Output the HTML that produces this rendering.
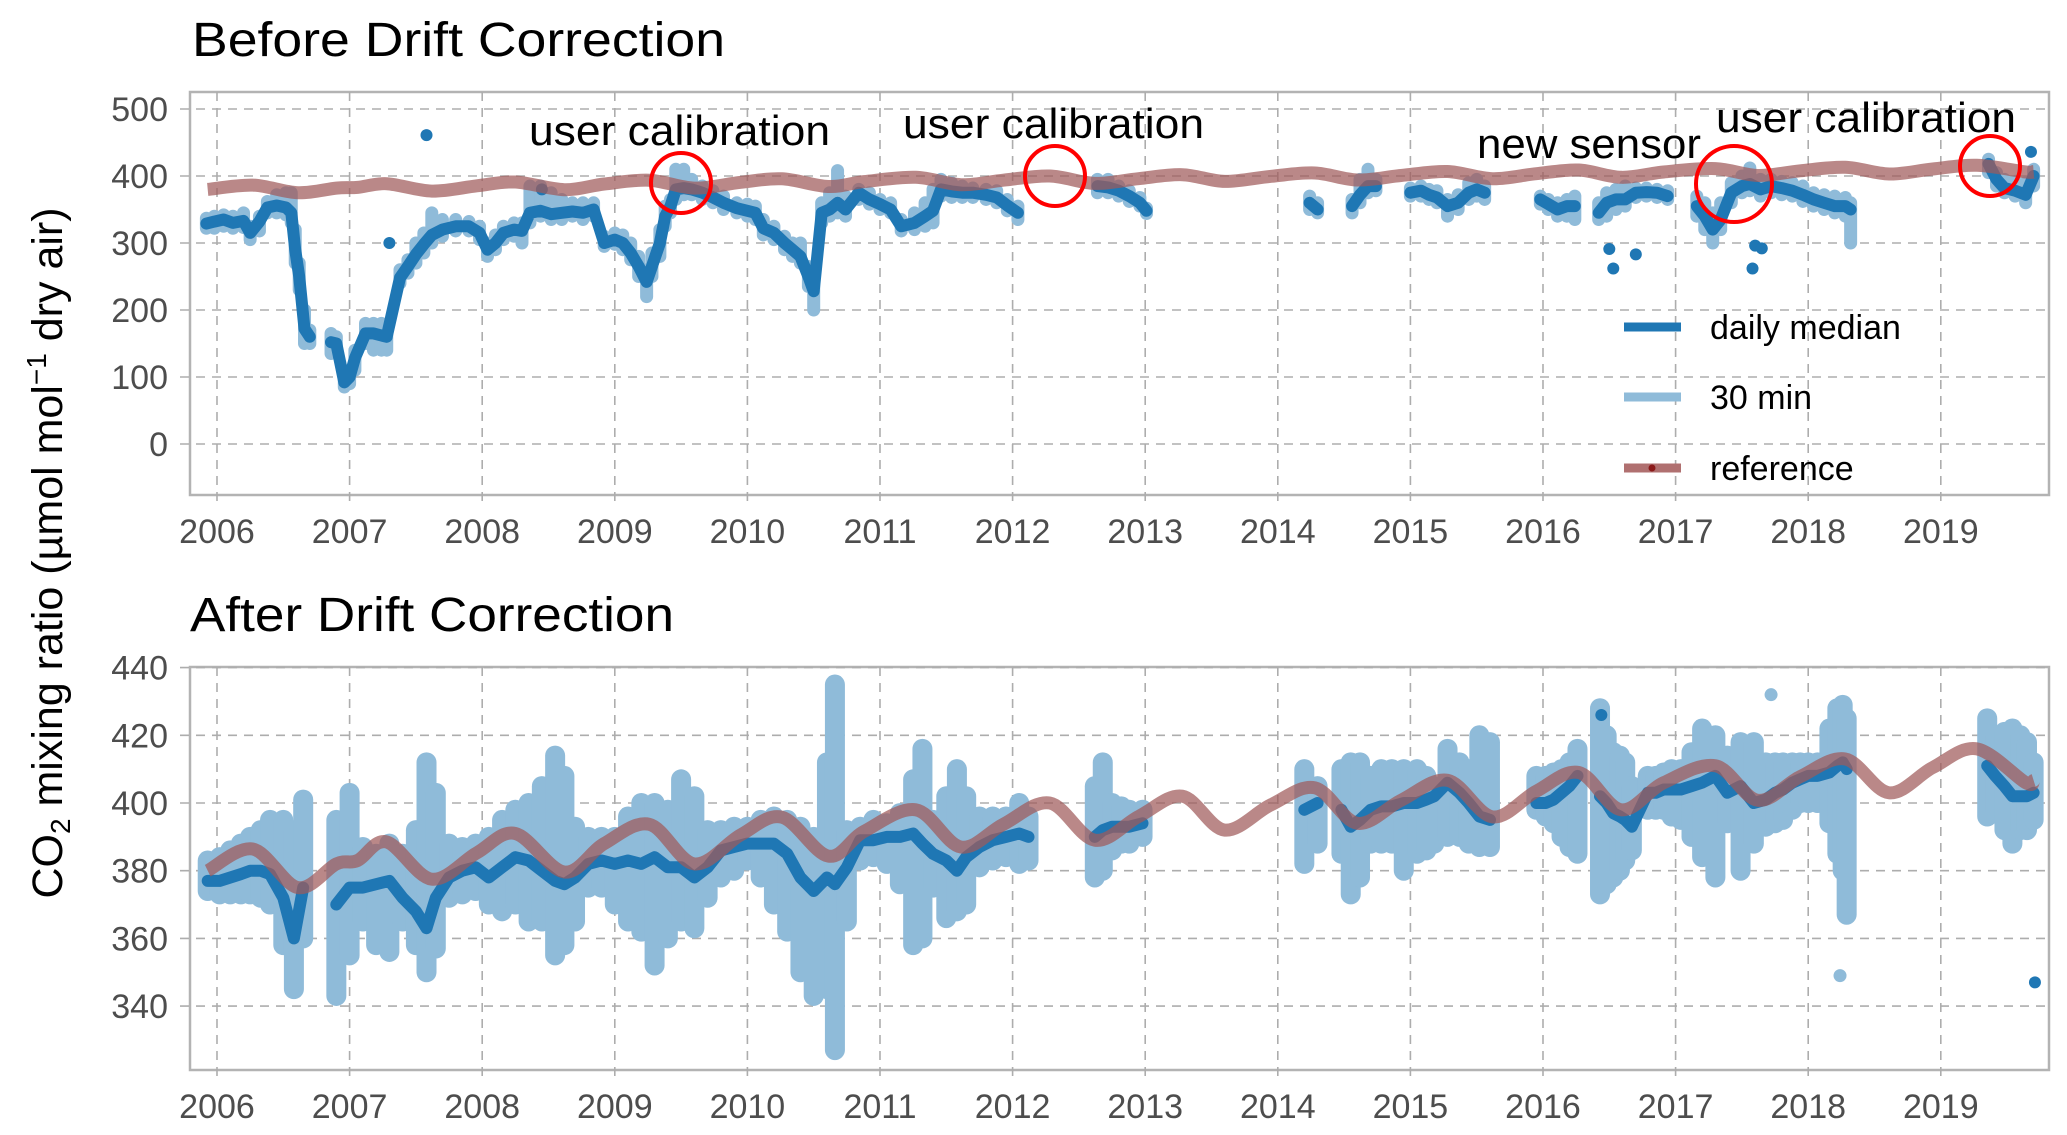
<!DOCTYPE html>
<html><head><meta charset="utf-8"><title>CO2 drift correction</title>
<style>
html,body{margin:0;padding:0;background:#fff;}
svg{display:block;font-family:"Liberation Sans",Arial,sans-serif;}
</style></head>
<body>
<svg id="chart" width="2067" height="1135" viewBox="0 0 2067 1135" xmlns="http://www.w3.org/2000/svg">
<rect x="0" y="0" width="2067" height="1135" fill="#fff"/>
<g id="top"></g>
<g id="bot"></g>
<text x="192" y="56" font-size="48" textLength="533" lengthAdjust="spacingAndGlyphs" fill="#000">Before Drift Correction</text>
<text x="190" y="631" font-size="48" textLength="484" lengthAdjust="spacingAndGlyphs" fill="#000">After Drift Correction</text>
<text transform="translate(62,553) rotate(-90)" text-anchor="middle" font-size="43" fill="#000">CO<tspan font-size="28" dy="8">2</tspan><tspan dy="-8"> mixing ratio (µmol mol</tspan><tspan font-size="28" dy="-16">−1</tspan><tspan dy="16"> dry air)</tspan></text>
<g font-size="42" fill="#000">
<text x="529" y="145" textLength="301" lengthAdjust="spacingAndGlyphs">user calibration</text>
<text x="903" y="138" textLength="301" lengthAdjust="spacingAndGlyphs">user calibration</text>
<text x="1477" y="158" textLength="224" lengthAdjust="spacingAndGlyphs">new sensor</text>
<text x="1716" y="132" textLength="300" lengthAdjust="spacingAndGlyphs">user calibration</text>
</g>
<g fill="none" stroke="#ff0000" stroke-width="4">
<circle cx="681" cy="183" r="30"/>
<circle cx="1055" cy="176" r="30"/>
<circle cx="1734" cy="184" r="38"/>
<circle cx="1990" cy="166" r="30"/>
</g>
<g font-size="34" fill="#000">
<line x1="1624" y1="327" x2="1681" y2="327" stroke="#1f77b4" stroke-width="9"/>
<text x="1710" y="339">daily median</text>
<line x1="1624" y1="397" x2="1681" y2="397" stroke="#8fbbd9" stroke-width="9"/>
<text x="1710" y="409">30 min</text>
<line x1="1624" y1="468" x2="1681" y2="468" stroke="#b07070" stroke-width="9"/>
<circle cx="1652" cy="468" r="3.5" fill="#8b1a1a"/>
<text x="1710" y="480">reference</text>
</g>
</svg>
<script>
// ---------- data ----------
const yearTicks = [2006,2007,2008,2009,2010,2011,2012,2013,2014,2015,2016,2017,2018,2019];
const topTicks = [0,100,200,300,400,500];
const botTicks = [340,360,380,400,420,440];
// reference curve [year, ppm]
const refTime = [2005.93,2006.27,2006.61,2006.9,2007.06,2007.28,2007.62,2007.96,2008.25,2008.62,2008.92,2009.26,2009.6,2009.95,2010.26,2010.61,2010.88,2011.27,2011.61,2011.93,2012.28,2012.62,2012.95,2013.28,2013.6,2013.95,2014.28,2014.6,2014.93,2015.28,2015.62,2015.95,2016.27,2016.59,2016.91,2017.3,2017.62,2017.94,2018.28,2018.61,2018.94,2019.27,2019.64,2019.7];
const refValue = [380,386.4,375,382,383,388.5,377.5,385.3,391,379.6,388,393.7,382,390.6,395.8,384.3,391.6,398,387,393.7,400,389,396,402,392,399.5,404.5,394,400.8,406.7,395.9,403.5,409,398,406,411,400.8,407.8,413,403,410.5,416,406,406.7];
// before correction: [year, daily median, 30-min low, 30-min high]
const beforeData = [[2005.92,329,322,337],[2005.98,332,322,340],[2006.05,335,325,342],[2006.12,330,322,340],[2006.2,333,323,345],[2006.25,315,305,325],[2006.32,332,318,340],[2006.38,353,345,362],[2006.45,356,345,372],[2006.52,353,342,375],[2006.56,345,330,375],[2006.59,290,270,320],[2006.62,250,230,270],
[2006.66,172,150,200],[2006.7,160,150,170],[2006.86,152,135,165],[2006.9,150,140,160],[2006.96,92,85,100],[2007.0,100,90,110],[2007.04,128,110,140],[2007.12,165,150,180],[2007.18,165,140,180],[2007.24,162,140,180],[2007.28,160,140,175],
[2007.38,248,240,260],[2007.44,265,255,275],[2007.5,283,270,300],[2007.56,298,285,315],[2007.62,312,300,345],[2007.7,320,310,335],[2007.8,325,318,335],[2007.9,325,318,332],[2007.98,315,305,325],[2008.04,290,280,300],[2008.1,300,290,312],[2008.16,315,305,325],[2008.24,320,310,330],[2008.3,318,300,330],[2008.36,345,330,385],[2008.44,348,340,385],[2008.52,343,335,375],[2008.6,345,335,365],[2008.68,347,340,360],[2008.76,345,335,360],[2008.84,350,340,360],
[2008.92,300,295,310],[2009.0,305,298,315],[2009.06,300,290,312],[2009.12,285,275,300],[2009.18,265,250,280],[2009.24,242,220,260],[2009.28,265,250,285],[2009.34,300,280,320],[2009.38,340,325,355],[2009.42,355,345,365],[2009.46,380,365,410],[2009.52,382,372,410],[2009.58,380,372,395],[2009.66,375,365,385],[2009.74,368,360,378],[2009.82,360,350,370],[2009.92,352,345,360],[2010.0,348,340,358],[2010.06,345,335,355],[2010.12,322,312,335],[2010.2,315,305,325],[2010.28,300,290,310],[2010.34,290,280,300],[2010.4,280,270,300],[2010.46,250,235,265],[2010.5,228,200,250],
[2010.56,345,330,360],[2010.62,350,340,375],[2010.68,360,345,408],[2010.74,350,340,370],[2010.84,375,365,380],[2010.92,365,358,375],[2011.0,358,350,365],[2011.08,350,345,360],[2011.16,325,318,335],[2011.26,330,320,345],[2011.34,340,325,360],[2011.4,348,330,380],[2011.46,380,370,395],[2011.54,377,368,390],[2011.62,375,368,385],[2011.7,375,368,382],[2011.8,372,365,380],[2011.88,368,360,378],[2011.96,356,348,365],[2012.04,345,335,355],
[2012.64,385,375,395],[2012.72,383,375,395],[2012.8,378,370,385],[2012.88,370,362,378],[2012.96,360,355,368],[2013.01,348,344,352],
[2014.24,360,350,370],[2014.3,350,345,360],[2014.56,355,345,365],[2014.62,372,360,395],[2014.68,385,375,410],[2014.74,385,378,395],
[2015.0,375,370,382],[2015.08,378,370,385],[2015.14,372,365,380],[2015.2,368,360,378],[2015.28,355,340,365],[2015.36,360,350,372],[2015.44,375,365,390],[2015.5,380,370,395],[2015.56,375,365,385],
[2015.98,365,358,370],[2016.04,358,350,365],[2016.11,350,340,360],[2016.18,355,340,365],[2016.24,355,335,370],
[2016.42,345,335,360],[2016.48,360,340,375],[2016.55,365,350,380],[2016.62,365,355,385],[2016.7,375,368,382],[2016.78,376,370,382],[2016.86,375,368,380],[2016.94,370,365,378],
[2017.16,355,340,370],[2017.22,340,320,360],[2017.28,320,300,345],[2017.34,335,320,360],[2017.42,375,360,390],[2017.5,385,375,400],[2017.56,388,378,412],[2017.64,380,370,395],[2017.72,385,375,395],[2017.8,382,372,392],[2017.88,378,370,390],[2017.96,372,362,385],[2018.04,365,355,375],[2018.12,360,350,372],[2018.2,355,345,370],[2018.28,355,340,368],[2018.32,350,300,360],
[2019.36,418,405,425],[2019.42,395,385,405],[2019.48,382,375,395],[2019.56,378,370,392],[2019.64,372,360,390],[2019.7,400,385,410]];
const beforeOutliers = [[2007.3,300],[2007.58,461],[2008.45,380],[2016.5,291],[2016.53,262],[2016.7,283],[2017.58,262],[2017.6,296],[2017.65,292],[2019.68,436]];
// after correction
const afterData = [[2005.93,377,374,383],[2006.02,377,373,384],[2006.1,378,373,386],[2006.18,379,373,388],[2006.25,380,373,390],[2006.33,380,372,392],[2006.4,379,370,395],[2006.5,372,358,395],[2006.58,360,345,392],[2006.65,375,360,401],
[2006.9,370,343,395],[2007.0,375,355,403],[2007.1,375,365,387],[2007.2,376,358,385],[2007.3,377,356,388],[2007.4,372,365,385],[2007.5,368,358,392],[2007.58,363,350,412],[2007.65,372,357,403],[2007.75,378,372,388],[2007.85,380,373,387],[2007.95,381,374,388],[2008.05,378,370,390],[2008.15,381,368,395],[2008.25,384,370,398],[2008.35,383,365,400],[2008.45,380,365,405],[2008.55,377,355,414],[2008.62,376,358,408],[2008.7,378,365,393],[2008.8,382,375,390],[2008.9,383,375,390],[2009.0,382,370,390],[2009.1,383,365,396],[2009.2,382,362,400],[2009.3,384,352,400],[2009.4,381,360,398],[2009.5,381,365,407],[2009.6,378,363,402],[2009.7,381,372,392],[2009.8,386,378,392],[2009.9,387,380,393],[2010.0,388,383,393],[2010.1,388,378,395],[2010.2,388,370,396],[2010.3,385,362,395],[2010.4,378,350,393],[2010.5,374,343,390],[2010.6,378,345,412],[2010.66,376,327,435],[2010.75,381,365,392],[2010.85,389,383,393],[2010.95,389,384,395],[2011.05,390,382,394],[2011.15,390,376,397],[2011.25,391,358,407],[2011.32,388,360,416],[2011.4,385,375,395],[2011.5,383,366,402],[2011.58,380,368,410],[2011.65,384,370,402],[2011.75,387,381,396],[2011.85,389,383,396],[2011.95,390,384,396],[2012.05,391,382,400],[2012.12,390,383,396],
[2012.62,390,378,405],[2012.68,392,380,412],[2012.75,393,386,400],[2012.82,393,388,399],[2012.88,393,388,398],[2012.98,394,390,398],
[2014.2,398,382,410],[2014.3,400,388,405],[2014.48,398,385,410],[2014.55,393,373,412],[2014.62,395,378,412],[2014.7,398,388,408],[2014.78,399,388,410],[2014.86,399,388,410],[2014.95,400,380,410],[2015.05,400,385,410],[2015.12,401,386,408],[2015.18,402,388,405],[2015.28,406,390,416],[2015.37,403,390,412],[2015.44,400,388,410],[2015.52,396,387,420],[2015.6,395,387,418],
[2015.95,400,398,408],[2016.02,400,396,408],[2016.08,401,394,409],[2016.14,403,390,410],[2016.2,405,387,412],[2016.26,408,385,416],[2016.43,402,373,428],[2016.48,400,376,420],[2016.53,397,378,415],[2016.58,396,380,414],[2016.62,395,383,412],[2016.67,393,386,405],[2016.79,403,398,408],[2016.85,403,398,408],[2016.91,404,398,409],[2016.97,404,396,410],[2017.04,404,395,410],[2017.12,405,390,415],[2017.2,406,384,422],[2017.3,408,378,420],[2017.39,403,394,414],[2017.49,405,380,418],[2017.59,400,388,418],[2017.68,401,393,412],[2017.75,403,394,412],[2017.81,404,395,412],[2017.88,406,398,412],[2017.94,407,400,412],[2018.0,408,400,412],[2018.07,408,400,412],[2018.16,409,394,422],[2018.22,411,385,428],[2018.26,412,380,429],[2018.29,410,367,425],
[2019.35,411,396,425],[2019.41,408,398,420],[2019.48,405,392,421],[2019.54,402,388,422],[2019.6,402,392,420],[2019.65,402,392,418],[2019.7,403,395,412]];
const afterMedianOutliers = [[2016.44,426],[2019.71,347]];
const after30Outliers = [[2018.24,349],[2017.72,432],[2006.57,345]];

// ---------- layout ----------
const NS = "http://www.w3.org/2000/svg";
const L = 190, R = 2049;
const xS = t => 217 + (t - 2006) * 132.6;
const yTop = v => 444 - v * 0.67;
const yBot = v => 803 - (v - 400) * 3.385;
const LIGHT = "#8fbbd9", DARK = "#1f77b4";

function mk(tag, attrs, parent) {
  const e = document.createElementNS(NS, tag);
  for (const k in attrs) e.setAttribute(k, attrs[k]);
  parent.appendChild(e);
  return e;
}

function smoothPath(pts) {
  let d = "M" + pts[0][0].toFixed(1) + "," + pts[0][1].toFixed(1);
  for (let i = 0; i < pts.length - 1; i++) {
    const p0 = pts[Math.max(0, i - 1)], p1 = pts[i], p2 = pts[i + 1], p3 = pts[Math.min(pts.length - 1, i + 2)];
    const c1x = p1[0] + (p2[0] - p0[0]) / 6, c1y = p1[1] + (p2[1] - p0[1]) / 6;
    const c2x = p2[0] - (p3[0] - p1[0]) / 6, c2y = p2[1] - (p3[1] - p1[1]) / 6;
    d += " C" + c1x.toFixed(1) + "," + c1y.toFixed(1) + " " + c2x.toFixed(1) + "," + c2y.toFixed(1) + " " + p2[0].toFixed(1) + "," + p2[1].toFixed(1);
  }
  return d;
}

function panel(g, top, bottom, yS, ticks, data, medOut, lightOut, prefix, barW) {
  const frame = mk("rect", {x: L, y: top, width: R - L, height: bottom - top, fill: "none", stroke: "#b3b3b3", "stroke-width": 2.5}, g);
  
  
  ticks.forEach(v => {
    const y = yS(v);
    const gl = mk("line", {x1: L - 10, x2: R, y1: y, y2: y, stroke: "#adadad", "stroke-width": 1.6, "stroke-dasharray": "9 7"}, g);
    
    
    const tl = mk("text", {x: 168, y: y + 12, "text-anchor": "end", "font-size": 34, fill: "#4d4d4d"}, g);
    
    
    tl.textContent = v;
  });
  yearTicks.forEach(yr => {
    const x = xS(yr);
    const gl = mk("line", {x1: x, x2: x, y1: top, y2: bottom + 10, stroke: "#adadad", "stroke-width": 1.6, "stroke-dasharray": "9 7"}, g);
    
    
    const tl = mk("text", {x: x, y: bottom + 48, "text-anchor": "middle", "font-size": 34, fill: "#4d4d4d"}, g);
    
    
    tl.textContent = yr;
  });
  // 30 min spread
  const g30 = mk("g", {stroke: LIGHT, "stroke-width": barW, "stroke-linecap": "round"}, g);
  
  
  data.forEach(d => {
    const ln = mk("line", {x1: xS(d[0]), x2: xS(d[0]), y1: yS(d[2]), y2: yS(d[3])}, g30);
    
    
  });
  lightOut.forEach(d => {
    const c = mk("circle", {cx: xS(d[0]), cy: yS(d[1]), r: 6.5, fill: LIGHT, stroke: "none"}, g30);
    
    
  });
  // daily median
  const gm = mk("g", {}, g);
  
  
  let seg = [];
  const flush = () => {
    if (!seg.length) return;
    const pl = mk("polyline", {points: seg.map(p => p.join(",")).join(" "), fill: "none", stroke: DARK, "stroke-width": 12, "stroke-linecap": "round", "stroke-linejoin": "round"}, gm);
    
    
    seg = [];
  };
  data.forEach((d, i) => {
    if (i > 0 && d[0] - data[i - 1][0] > 0.13) flush();
    seg.push([xS(d[0]).toFixed(1), yS(d[1]).toFixed(1)]);
  });
  flush();
  medOut.forEach(d => {
    const c = mk("circle", {cx: xS(d[0]), cy: yS(d[1]), r: 6, fill: DARK}, gm);
    
    
  });
  // reference
  const pts = refTime.map((t, i) => [xS(t), yS(refValue[i])]);
  const rp = mk("path", {d: smoothPath(pts), fill: "none", stroke: "#a05a5a", "stroke-opacity": 0.72, "stroke-width": 13, "stroke-linecap": "butt"}, g);
  
  
}

panel(document.getElementById("top"), 92, 495, yTop, topTicks, beforeData, beforeOutliers, [], "before", 13);
panel(document.getElementById("bot"), 667, 1070, yBot, botTicks, afterData, afterMedianOutliers, after30Outliers, "after", 20);
</script>
</body></html>
